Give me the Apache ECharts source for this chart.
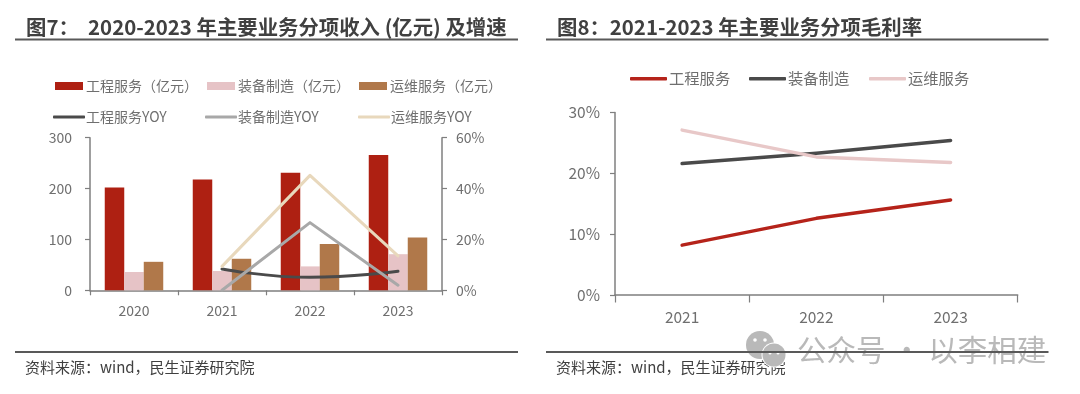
<!DOCTYPE html>
<html>
<head>
<meta charset="utf-8">
<style>
	html, body { margin: 0; padding: 0; background: #fff; }
	#main { width: 1080px; height: 394px; }
</style>
<script src="https://cdn.jsdelivr.net/npm/echarts@6/dist/echarts.min.js"></script>
</head>
<body>
<div id="main"></div>
<script>
	const years7 = ['2020', '2021', '2022', '2023']
	const engRevenue = [202, 218, 231, 266]
	const equipRevenue = [36, 38, 47, 71]
	const opsRevenue = [56, 62, 91, 104]
	const engYoy = [null, 8.4, 5.1, 7.5]
	const equipYoy = [null, 0, 26.6, 2]
	const opsYoy = [null, 9.4, 45.2, 13.5]

	const years8 = ['2021', '2022', '2023']
	const engMargin = [8.2, 12.6, 15.6]
	const equipMargin = [21.6, 23.3, 25.4]
	const opsMargin = [27.1, 22.7, 21.8]

	const font = '"Noto Sans CJK SC", "Noto Sans", sans-serif'
	const axisColor = '#7f7f7f'
	const labelColor = '#6f6f6f'

	const axisLine = { show: true, lineStyle: { color: axisColor, width: 1.5 } }
	const tick = (length) => ({ show: true, length, lineStyle: { color: axisColor, width: 1.2 } })
	const label = (fontSize, margin, formatter) => ({ color: labelColor, fontSize, fontFamily: font, margin, formatter })

	const bar = (name, data, color) => ({
		name, type: 'bar', data, xAxisIndex: 0, yAxisIndex: 0,
		barWidth: 19.5, barGap: 0, itemStyle: { color }
	})
	const line = (name, data, color, xAxisIndex, yAxisIndex, width, smooth) => ({
		name, type: 'line', data, xAxisIndex, yAxisIndex, smooth, symbol: 'none',
		lineStyle: { color, width, cap: 'round', join: 'round' },
		itemStyle: { color }
	})
	// 每个图例单独定位，对齐原图的三列
	const legend = (name, left, top, itemWidth, itemHeight, fontSize, nudge, icon) => ({
		data: [name], left, top, padding: 0, itemWidth, itemHeight, icon,
		textStyle: { color: labelColor, fontSize, fontFamily: font, padding: [0, 0, 0, nudge] }
	})
	const heading = (text, left) => ({
		type: 'text', left, top: 17,
		style: { text, fill: '#404040', font: 'bold 20.4px ' + font }
	})
	const source = (left) => ({
		type: 'text', left, top: 360,
		style: { text: '资料来源：wind，民生证券研究院', fill: '#404040', font: '15px ' + font }
	})
	const rule = (x1, x2, y) => ({
		type: 'line', z: 10, shape: { x1, y1: y, x2, y2: y },
		style: { stroke: '#595959', lineWidth: 2 }
	})
	const dot = (cx, cy, r, fill) => ({ type: 'circle', z: 5, shape: { cx, cy, r }, style: { fill } })

	const option = {
		animation: false,
		backgroundColor: '#fff',
		legend: [
			legend('工程服务（亿元）', 55, 79, 28, 8, 14, -2, 'rect'),
			legend('装备制造（亿元）', 207, 79, 28, 8, 14, -2, 'rect'),
			legend('运维服务（亿元）', 359, 79, 28, 8, 14, -2, 'rect'),
			legend('工程服务YOY', 53, 110, 32, 3, 14, -4, 'roundRect'),
			legend('装备制造YOY', 205, 110, 32, 3, 14, -4, 'roundRect'),
			legend('运维服务YOY', 358, 110, 32, 3, 14, -4, 'roundRect'),
			legend('工程服务', 630, 71, 37, 3.5, 15.3, -3, 'roundRect'),
			legend('装备制造', 749, 71, 37, 3.5, 15.3, -3, 'roundRect'),
			legend('运维服务', 869, 71, 37, 3.5, 15.3, -3, 'roundRect')
		],
		grid: [
			{ left: 90, top: 137.7, width: 352, height: 152.6 },
			{ left: 615, top: 112.5, width: 402.7, height: 182.5 }
		],
		xAxis: [
			{ type: 'category', gridIndex: 0, data: years7, axisLine, axisTick: tick(5), axisLabel: label(14, 13) },
			{ type: 'category', gridIndex: 1, data: years8, axisLine, axisTick: tick(7.5), axisLabel: label(15.5, 14.5) }
		],
		yAxis: [
			{ type: 'value', gridIndex: 0, min: 0, max: 300, interval: 100, splitLine: { show: false }, axisLine, axisTick: tick(5), axisLabel: label(14, 18) },
			{ type: 'value', gridIndex: 0, position: 'right', min: 0, max: 60, interval: 20, splitLine: { show: false }, axisLine, axisTick: tick(5), axisLabel: label(14, 14, '{value}%') },
			{ type: 'value', gridIndex: 1, min: 0, max: 30, interval: 10, splitLine: { show: false }, axisLine, axisTick: tick(5), axisLabel: label(15.5, 15, '{value}%') }
		],
		series: [
			bar('工程服务（亿元）', engRevenue, '#ae2012'),
			bar('装备制造（亿元）', equipRevenue, '#e6c3c6'),
			bar('运维服务（亿元）', opsRevenue, '#b0784a'),
			line('工程服务YOY', engYoy, '#4a4a4a', 0, 1, 3, true),
			line('装备制造YOY', equipYoy, '#a8a8a8', 0, 1, 3, false),
			line('运维服务YOY', opsYoy, '#e8d8bc', 0, 1, 3, false),
			line('工程服务', engMargin, '#b5231a', 1, 2, 3.5, false),
			line('装备制造', equipMargin, '#4a4a4a', 1, 2, 3.5, false),
			line('运维服务', opsMargin, '#e8c8c8', 1, 2, 3.5, false)
		],
		graphic: [
			heading('图7：  2020-2023 年主要业务分项收入 (亿元) 及增速', 26),
			heading('图8：2021-2023 年主要业务分项毛利率', 557),
			rule(15, 518, 39.5),
			rule(546, 1048.5, 39.5),
			rule(15, 518, 352),
			rule(546, 1048.5, 352),
			source(25),
			source(556),
			// 公众号水印
			dot(760, 345, 14, '#b9b9b9'),
			dot(774, 355, 12.5, '#fff'),
			dot(774, 355, 11.5, '#b9b9b9'),
			dot(755, 340, 1.8, '#fff'),
			dot(765, 340, 1.8, '#fff'),
			dot(770, 353, 1.5, '#fff'),
			dot(778, 353, 1.5, '#fff'),
			{ type: 'text', z: 5, left: 797, top: 335, style: { text: '公众号 · 以李相建', fill: '#b9b9b9', font: '29.5px ' + font } }
		]
	}

	const chart = echarts.init(document.getElementById('main'))
	chart.setOption(option)
</script>
</body>
</html>
